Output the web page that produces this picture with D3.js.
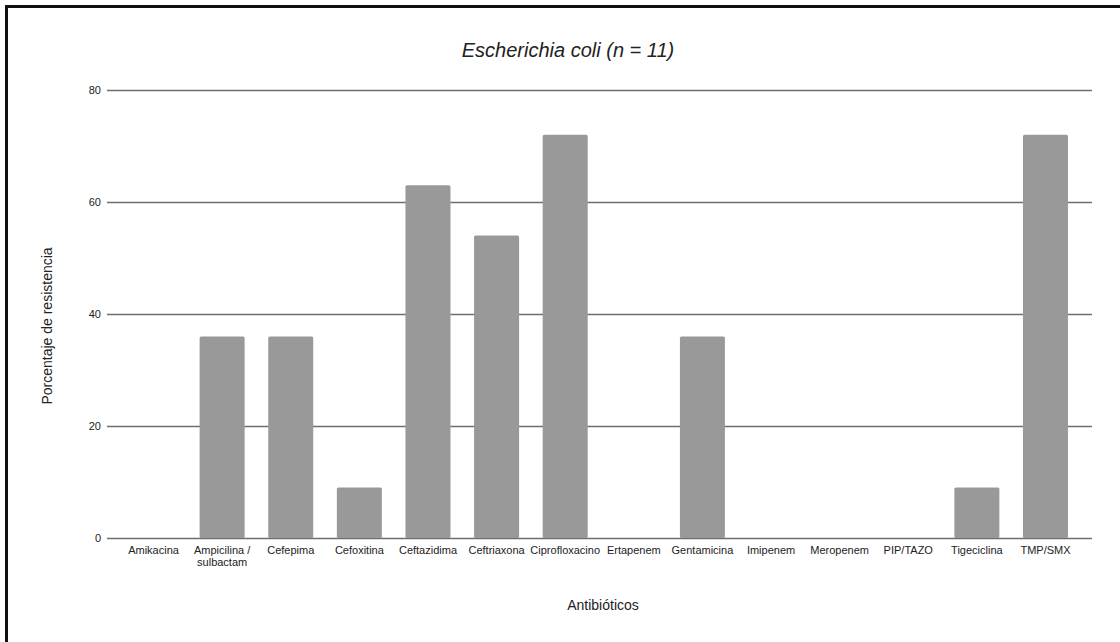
<!DOCTYPE html>
<html>
<head>
<meta charset="utf-8">
<script src="https://cdn.jsdelivr.net/npm/d3@7"></script>
<style>
  html, body { margin: 0; padding: 0; background: #fff; }
  svg { display: block; font-family: "Liberation Sans", Arial, sans-serif; }
</style>
</head>
<body>
<svg id="chart" width="1120" height="642"></svg>
<script>
const categories = ["Amikacina", "Ampicilina / sulbactam", "Cefepima", "Cefoxitina", "Ceftazidima", "Ceftriaxona", "Ciprofloxacino", "Ertapenem", "Gentamicina", "Imipenem", "Meropenem", "PIP/TAZO", "Tigeciclina", "TMP/SMX"];
const categoryLines = [["Amikacina"], ["Ampicilina /", "sulbactam"], ["Cefepima"], ["Cefoxitina"], ["Ceftazidima"], ["Ceftriaxona"], ["Ciprofloxacino"], ["Ertapenem"], ["Gentamicina"], ["Imipenem"], ["Meropenem"], ["PIP/TAZO"], ["Tigeciclina"], ["TMP/SMX"]];
const values = [0, 36, 36, 9, 63, 54, 72, 0, 36, 0, 0, 0, 9, 72];
const yTicks = [0, 20, 40, 60, 80];
const titleText = "Escherichia coli (n = 11)";
const xTitle = "Antibióticos";
const yTitle = "Porcentaje de resistencia";

const svg = d3.select("#chart");
const plotLeft = 107, plotRight = 1092, plotTop = 90, plotBottom = 538;

const x = d3.scaleBand().domain(categories).range([plotLeft, plotRight]).paddingInner(0.344).paddingOuter(0.35);
const y = d3.scaleLinear().domain([0, 80]).range([plotBottom, plotTop]);

// frame
svg.append("path").attr("d", `M6.5,642 V6.5 H1120`).attr("fill", "none").attr("stroke", "#111").attr("stroke-width", 3);

// title
svg.append("text").attr("x", 568).attr("y", 57).attr("text-anchor", "middle")
  .attr("font-size", 20).attr("font-style", "italic").attr("fill", "#222").text(titleText);

// grid lines
svg.append("g").selectAll("line").data(yTicks).join("line")
  .attr("x1", plotLeft).attr("x2", plotRight)
  .attr("y1", d => Math.round(y(d)) + 0.5).attr("y2", d => Math.round(y(d)) + 0.5)
  .attr("stroke", "#6e6e6e").attr("stroke-width", 1.3);

// y tick labels
const yAxis = d3.axisLeft(y).tickValues(yTicks).tickSize(0).tickPadding(0);
const gy = svg.append("g").attr("transform", `translate(${plotLeft - 6},0)`).call(yAxis);
gy.select(".domain").remove();
gy.selectAll("text").attr("font-size", 11).attr("fill", "#222").attr("font-family", "Liberation Sans, Arial, sans-serif");

// bars
svg.append("g").selectAll("rect").data(categories.map((c, i) => ({c, v: values[i]})).filter(d => d.v > 0)).join("rect")
  .attr("x", d => x(d.c)).attr("width", x.bandwidth())
  .attr("y", d => y(d.v)).attr("height", d => y(0) - y(d.v))
  .attr("rx", 1.5).attr("fill", "#999999");

// x tick labels
const xAxis = d3.axisBottom(x).tickSize(0).tickPadding(0).tickFormat(() => "");
const gx = svg.append("g").attr("transform", `translate(0,${plotBottom})`).call(xAxis);
gx.select(".domain").remove();
gx.selectAll(".tick").each(function(d, i) {
  const t = d3.select(this).select("text");
  t.text(null).attr("font-size", 11).attr("fill", "#222").attr("y", 16).attr("dy", null)
   .attr("font-family", "Liberation Sans, Arial, sans-serif");
  categoryLines[i].forEach((ln, k) => {
    t.append("tspan").attr("x", 0).attr("y", 16 + k * 12).text(ln);
  });
});

// axis titles
svg.append("text").attr("x", 603).attr("y", 610).attr("text-anchor", "middle")
  .attr("font-size", 14).attr("fill", "#222").text(xTitle);
svg.append("text").attr("transform", "translate(52,326) rotate(-90)").attr("text-anchor", "middle")
  .attr("font-size", 14).attr("fill", "#222").text(yTitle);
</script>
</body>
</html>
